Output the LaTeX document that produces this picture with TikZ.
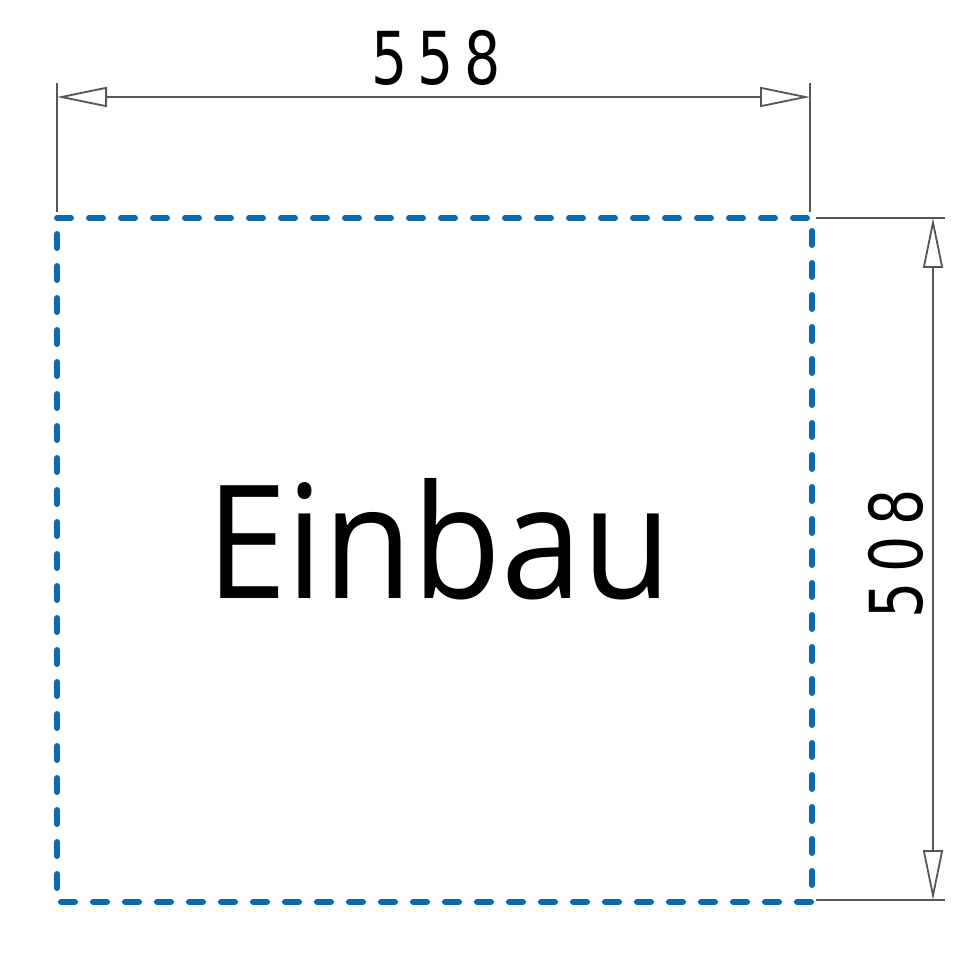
\documentclass[tikz,border=0pt]{standalone}
\usepackage{fontspec}
\setmainfont{Open Sans}
\newfontfamily\dimfont{DejaVu Sans}
\usetikzlibrary{arrows.meta}
\definecolor{cutblue}{HTML}{0A6BB0}
\definecolor{dimgrey}{HTML}{555555}
\newcommand{\dimnum}[3]{\scalebox{0.78}[1]{#1\kern13pt#2\kern13pt#3}}
\begin{document}
\begin{tikzpicture}[x=1pt,y=-1pt,
  dimline/.style={draw=dimgrey,line width=1.8pt},
  dimarrow/.style={dimline,{Triangle[open,length=50pt,width=20pt,line width=1.8pt]}-{Triangle[open,length=50pt,width=20pt,line width=1.8pt]}},
  cutout/.style={draw=cutblue,line width=6pt,line cap=round,dash pattern=on 14pt off 18pt},
  dimtext/.style={font=\dimfont\fontsize{73}{73}\selectfont,inner sep=0pt,anchor=base}]
\useasboundingbox (0,0) rectangle (978,960);
% cut-out outline
\coordinate (tl) at (57,218);
\coordinate (tr) at (812,218);
\coordinate (br) at (812,902);
\coordinate (bl) at (57,902);
\draw[cutout] (tl) -- (tr) -- (br) -- (bl) -- cycle;
% extension lines
\coordinate (el1) at (57,83);
\coordinate (el2) at (57,212);
\coordinate (er1) at (810,83);
\coordinate (er2) at (810,212);
\coordinate (et1) at (816,218);
\coordinate (et2) at (945,218);
\coordinate (eb1) at (816,900);
\coordinate (eb2) at (945,900);
\draw[dimline] (el1) -- (el2);
\draw[dimline] (er1) -- (er2);
\draw[dimline] (et1) -- (et2);
\draw[dimline] (eb1) -- (eb2);
% dimension lines
\coordinate (hA) at (57,97);
\coordinate (hB) at (810,97);
\coordinate (vA) at (933,218);
\coordinate (vB) at (933,900);
\draw[dimarrow] (hA) -- (hB);
\draw[dimarrow] (vA) -- (vB);
% labels
\node[dimtext] (w) at (436,85) {\dimnum{5}{5}{8}};
\node[dimtext,rotate=90] (h) at (922,554) {\dimnum{5}{0}{8}};
\node[font=\fontsize{158}{158}\selectfont,inner sep=0pt,anchor=base] (label) at (439,598) {\scalebox{0.92}[1]{Einbau}};
\end{tikzpicture}
\end{document}
